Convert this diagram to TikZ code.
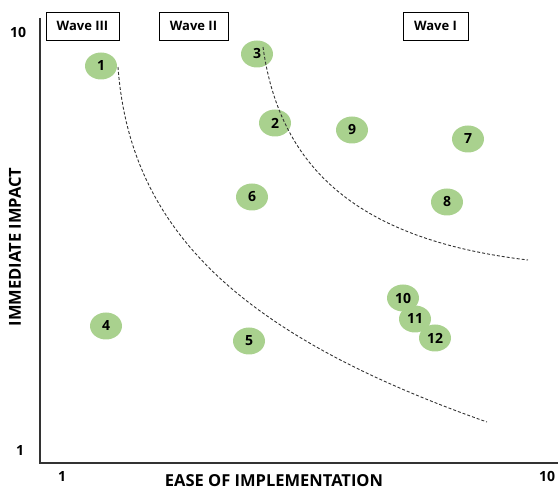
\documentclass[tikz,border=0pt]{standalone}
\usepackage{fontspec}
\setmainfont{Open Sans}
\usetikzlibrary{shapes.geometric}

\definecolor{leaf}{HTML}{A9D18E}
\definecolor{axisgray}{HTML}{333333}

\begin{document}
\begin{tikzpicture}[x=1pt, y=-1pt,
    pt/.style={ellipse, fill=leaf, minimum width=32pt, minimum height=27pt, inner sep=0pt,
      font=\fontsize{14}{14}\selectfont\bfseries},
    wave/.style={draw, line width=0.9pt, minimum height=28pt, inner sep=0pt,
      font=\fontsize{13}{13}\selectfont\bfseries},
    tick/.style={font=\fontsize{14}{14}\selectfont\bfseries},
    border/.style={dashed, dash pattern=on 3pt off 2pt, line width=0.9pt, color=black!80}]
  \useasboundingbox (0,0) rectangle (558,492);
  % axes
  \coordinate (top) at (40,18);
  \coordinate (origin) at (40,463);
  \coordinate (right) at (558,463);
  \draw[line width=2.4pt, axisgray] (top) -- (origin) -- (right);
  \node[tick] (y10) at (18,32) {10};
  \node[tick] (y1) at (20,451) {1};
  \node[tick] (x1) at (62,477) {1};
  \node[tick] (x10) at (547,476) {10};
  \node[font=\fontsize{16.5}{16.5}\selectfont\bfseries] (xlab) at (274,481) {EASE OF IMPLEMENTATION};
  \node[font=\fontsize{16.5}{16.5}\selectfont\bfseries, rotate=90] (ylab) at (15,247) {IMMEDIATE IMPACT};
  % waves
  \node[wave, minimum width=73pt] (w3) at (82.5,26) {Wave III};
  \node[wave, minimum width=69pt] (w2) at (193.5,26) {Wave II};
  \node[wave, minimum width=65pt] (w1) at (435.5,26) {Wave I};
  % items
  \node[pt] (n1) at (101,66) {1};
  \node[pt] (n2) at (275,123) {2};
  \node[pt] (n3) at (257,54) {3};
  \node[pt] (n4) at (106,326) {4};
  \node[pt] (n5) at (249,341) {5};
  \node[pt] (n6) at (252,197) {6};
  \node[pt] (n7) at (468,139) {7};
  \node[pt] (n8) at (447,202) {8};
  \node[pt] (n9) at (352,130) {9};
  \node[pt] (n10) at (403,298) {10};
  \node[pt] (n11) at (415,319) {11};
  \node[pt] (n12) at (435,338) {12};
  % wave borders
  \coordinate (b1s) at (118,67);
  \coordinate (b1e) at (487,422);
  \coordinate (b2s) at (263,47);
  \coordinate (b2e) at (528,260);
  \draw[border] (b1s) .. controls (130,230) and (240,335) .. (b1e);
  \draw[border] (b2s) .. controls (280,170) and (360,240) .. (b2e);
\end{tikzpicture}
\end{document}
